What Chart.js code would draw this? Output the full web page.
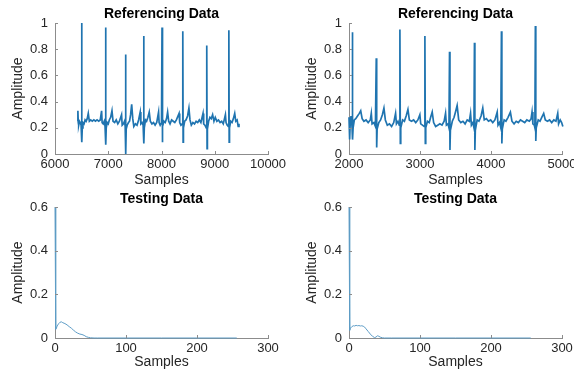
<!DOCTYPE html>
<html>
<head>
<meta charset="utf-8">
<script src="https://cdn.jsdelivr.net/npm/chart.js@4.4.1/dist/chart.umd.min.js"></script>
<style>
  html, body { margin: 0; padding: 0; background: #fff; overflow: hidden; }
  body { width: 574px; height: 369px; position: relative; }
  .panel { position: absolute; }
</style>
</head>
<body>
<div class="panel" style="left:0;top:0;width:287px;height:190px"><canvas id="refLeft"></canvas></div>
<div class="panel" style="left:294px;top:0;width:280px;height:190px"><canvas id="refRight"></canvas></div>
<div class="panel" style="left:0;top:186px;width:287px;height:185px"><canvas id="testLeft"></canvas></div>
<div class="panel" style="left:294px;top:186px;width:280px;height:185px"><canvas id="testRight"></canvas></div>
<script>
// Referencing data, left panel (ECG segment)
const refLeftSamples = [6425, 6430, 6437, 6445, 6460, 6475, 6490, 6500, 6506, 6512, 6525, 6545, 6565, 6585, 6605, 6625, 6645, 6670, 6700, 6730, 6760, 6790, 6820, 6850, 6875, 6885, 6905, 6925, 6940, 6950, 6956, 6962, 6980, 7000, 7020, 7045, 7070, 7090, 7120, 7150, 7180, 7210, 7250, 7262, 7285, 7305, 7318, 7325, 7331, 7337, 7355, 7380, 7400, 7420, 7440, 7460, 7480, 7510, 7540, 7570, 7600, 7612, 7635, 7655, 7665, 7671, 7677, 7700, 7720, 7745, 7770, 7790, 7820, 7850, 7880, 7910, 7945, 7955, 7975, 8000, 8010, 8016, 8022, 8045, 8070, 8095, 8115, 8135, 8160, 8190, 8220, 8250, 8280, 8330, 8342, 8365, 8390, 8400, 8406, 8412, 8435, 8460, 8490, 8515, 8535, 8560, 8590, 8620, 8650, 8680, 8710, 8740, 8780, 8792, 8815, 8840, 8850, 8856, 8862, 8885, 8910, 8935, 8960, 8985, 9010, 9040, 9070, 9100, 9130, 9160, 9200, 9212, 9235, 9255, 9265, 9271, 9277, 9300, 9325, 9350, 9375, 9395, 9420, 9440, 9455];
const refLeftAmp = [0.25, 0.33, 0.24, 0.22, 0.25, 0.24, 0.22, 1.00, 0.09, 0.20, 0.24, 0.23, 0.26, 0.25, 0.27, 0.31, 0.25, 0.26, 0.25, 0.26, 0.25, 0.26, 0.25, 0.26, 0.33, 0.24, 0.23, 0.25, 0.21, 0.965, 0.07, 0.20, 0.24, 0.23, 0.26, 0.28, 0.33, 0.25, 0.24, 0.26, 0.23, 0.25, 0.30, 0.22, 0.23, 0.25, 0.21, 0.76, 0.00, 0.19, 0.22, 0.24, 0.25, 0.30, 0.38, 0.27, 0.21, 0.23, 0.22, 0.26, 0.32, 0.23, 0.24, 0.22, 0.90, 0.08, 0.20, 0.26, 0.25, 0.28, 0.32, 0.25, 0.23, 0.24, 0.22, 0.24, 0.32, 0.24, 0.22, 0.24, 0.965, 0.09, 0.21, 0.25, 0.24, 0.27, 0.32, 0.25, 0.23, 0.26, 0.25, 0.24, 0.26, 0.31, 0.24, 0.22, 0.23, 0.937, 0.09, 0.20, 0.25, 0.26, 0.29, 0.35, 0.26, 0.22, 0.24, 0.23, 0.25, 0.24, 0.26, 0.24, 0.31, 0.23, 0.22, 0.20, 0.828, 0.04, 0.19, 0.25, 0.28, 0.27, 0.30, 0.25, 0.28, 0.25, 0.26, 0.24, 0.25, 0.23, 0.30, 0.24, 0.22, 0.21, 0.944, 0.09, 0.20, 0.25, 0.24, 0.27, 0.31, 0.25, 0.26, 0.21, 0.23];

// Referencing data, right panel
const refRightSamples = [2000, 2006, 2012, 2018, 2028, 2038, 2043, 2047, 2052, 2058, 2075, 2095, 2120, 2145, 2165, 2185, 2210, 2240, 2270, 2300, 2314, 2325, 2350, 2372, 2384, 2390, 2396, 2420, 2445, 2470, 2492, 2512, 2540, 2570, 2600, 2630, 2656, 2668, 2690, 2708, 2717, 2723, 2729, 2755, 2780, 2805, 2830, 2850, 2880, 2910, 2940, 2970, 2998, 3010, 3035, 3058, 3069, 3075, 3081, 3105, 3130, 3150, 3172, 3192, 3220, 3250, 3280, 3310, 3340, 3360, 3372, 3395, 3408, 3416, 3422, 3428, 3455, 3480, 3500, 3523, 3545, 3575, 3605, 3635, 3665, 3695, 3712, 3724, 3745, 3760, 3767, 3773, 3779, 3805, 3830, 3860, 3884, 3905, 3935, 3965, 3995, 4025, 4055, 4087, 4099, 4120, 4138, 4147, 4153, 4159, 4185, 4210, 4240, 4273, 4295, 4325, 4355, 4385, 4415, 4445, 4475, 4505, 4540, 4565, 4578, 4590, 4610, 4618, 4625, 4631, 4637, 4665, 4690, 4715, 4742, 4765, 4795, 4825, 4855, 4885, 4915, 4940, 4952, 4975, 4995, 5012];
const refRightAmp = [0.28, 0.24, 0.11, 0.25, 0.29, 0.24, 0.20, 0.93, 0.11, 0.20, 0.26, 0.27, 0.29, 0.31, 0.33, 0.27, 0.25, 0.26, 0.24, 0.26, 0.31, 0.23, 0.24, 0.21, 0.73, 0.05, 0.19, 0.24, 0.26, 0.30, 0.35, 0.26, 0.22, 0.23, 0.21, 0.24, 0.31, 0.23, 0.25, 0.22, 0.95, 0.08, 0.20, 0.26, 0.25, 0.29, 0.34, 0.26, 0.25, 0.26, 0.24, 0.26, 0.30, 0.23, 0.22, 0.21, 0.90, 0.08, 0.20, 0.25, 0.24, 0.28, 0.32, 0.24, 0.21, 0.22, 0.23, 0.22, 0.25, 0.31, 0.22, 0.23, 0.20, 0.78, 0.03, 0.18, 0.25, 0.28, 0.32, 0.37, 0.26, 0.24, 0.25, 0.23, 0.26, 0.25, 0.31, 0.22, 0.24, 0.20, 0.85, 0.03, 0.18, 0.26, 0.25, 0.29, 0.35, 0.26, 0.27, 0.25, 0.26, 0.24, 0.26, 0.32, 0.22, 0.24, 0.20, 0.937, 0.08, 0.19, 0.26, 0.25, 0.28, 0.32, 0.25, 0.23, 0.25, 0.24, 0.26, 0.25, 0.24, 0.26, 0.25, 0.27, 0.32, 0.23, 0.22, 0.20, 0.977, 0.10, 0.20, 0.26, 0.25, 0.28, 0.31, 0.26, 0.25, 0.26, 0.24, 0.26, 0.25, 0.31, 0.23, 0.26, 0.24, 0.21];

// Testing data
const testLeftSamples = [0, 1, 2, 3, 5, 7, 9, 11, 14, 17, 20, 23, 26, 29, 32, 35, 38, 41, 44, 47, 50, 55, 60, 100, 150, 200, 256];
const testLeftAmp = [0.6, 0.04, 0.045, 0.055, 0.065, 0.072, 0.074, 0.07, 0.066, 0.06, 0.052, 0.045, 0.036, 0.028, 0.022, 0.018, 0.016, 0.012, 0.006, 0.003, 0.001, 0, 0, 0, 0, 0, 0];
const testRightSamples = [0, 1, 2, 4, 6, 8, 10, 12, 14, 16, 18, 20, 22, 24, 27, 30, 33, 36, 38, 40, 42, 44, 47, 50, 60, 100, 150, 200, 256];
const testRightAmp = [0.6, 0.035, 0.045, 0.052, 0.056, 0.055, 0.058, 0.056, 0.057, 0.055, 0.056, 0.054, 0.05, 0.042, 0.03, 0.018, 0.008, 0.002, 0.004, 0.01, 0.008, 0.004, 0.001, 0, 0, 0, 0, 0, 0];

// Tick values
const refLeftXTicks = [6000, 7000, 8000, 9000, 10000];
const refRightXTicks = [2000, 3000, 4000, 5000];
const testXTicks = [0, 100, 200, 300];
const refYTicks = [0, 0.2, 0.4, 0.6, 0.8, 1];
const testYTicks = [0, 0.2, 0.4, 0.6];

const FONT = '"Liberation Sans", Arial, sans-serif';
const AXIS_COLOR = '#8c8c8c';

// small inward ticks + title centred over the plot area, like matlab
const matlabAxes = {
    id: 'matlabAxes',
    afterDraw(chart, args, opts) {
        const {ctx, chartArea: a} = chart;
        const xs = chart.scales.x, ys = chart.scales.y;
        ctx.save();
        ctx.strokeStyle = AXIS_COLOR;
        ctx.lineWidth = 1;
        ctx.beginPath();
        xs.ticks.forEach(t => {
            const px = Math.round(xs.getPixelForValue(t.value)) + 0.5;
            ctx.moveTo(px, a.bottom);
            ctx.lineTo(px, a.bottom - 3);
        });
        ys.ticks.forEach(t => {
            const py = Math.round(ys.getPixelForValue(t.value)) + 0.5;
            ctx.moveTo(a.left, py);
            ctx.lineTo(a.left + 3, py);
        });
        ctx.stroke();
        ctx.font = 'bold 14px ' + FONT;
        ctx.fillStyle = '#000';
        ctx.textAlign = 'center';
        ctx.textBaseline = 'middle';
        ctx.fillText(opts.text, (a.left + a.right) / 2, opts.y);
        ctx.restore();
    }
};

function makePanel(id, p) {
    const points = p.xs.map((x, i) => ({x: x, y: p.ys[i]}));
    return new Chart(document.getElementById(id), {
        type: 'line',
        data: {
            datasets: [{
                data: points,
                borderColor: p.color,
                borderWidth: p.lineWidth,
                pointRadius: 0,
                tension: 0,
                clip: 3
            }]
        },
        plugins: [matlabAxes],
        options: {
            responsive: true,
            maintainAspectRatio: false,
            animation: false,
            layout: {padding: {left: 10, right: p.padRight, top: p.padTop, bottom: 0}},
            plugins: {
                legend: {display: false},
                tooltip: {enabled: false},
                matlabAxes: {text: p.title, y: p.titleY}
            },
            scales: {
                x: {
                    type: 'linear',
                    min: p.xMin,
                    max: p.xMax,
                    afterBuildTicks: (s) => { s.ticks = p.xTicks.map(v => ({value: v})); },
                    afterFit: (s) => { s.height = p.xHeight; s.paddingLeft = 0; s.paddingRight = 0; },
                    grid: {drawOnChartArea: false, drawTicks: false},
                    border: {color: AXIS_COLOR},
                    ticks: {padding: 3, color: '#262626', font: {family: FONT, size: 13}, maxRotation: 0, autoSkip: false,
                        callback: (v) => String(v)},
                    title: {display: true, text: 'Samples', color: '#262626', font: {family: FONT, size: 14}, padding: {top: 0, bottom: p.xTitlePad}}
                },
                y: {
                    min: 0,
                    max: p.yMax,
                    afterBuildTicks: (s) => { s.ticks = p.yTicks.map(v => ({value: v})); },
                    afterFit: (s) => { s.width = 45; s.paddingTop = 0; s.paddingBottom = 0; },
                    grid: {drawOnChartArea: false, drawTicks: false},
                    border: {color: AXIS_COLOR},
                    ticks: {padding: 7, color: '#262626', font: {family: FONT, size: 13},
                        callback: (v) => String(v)},
                    title: {display: true, text: 'Amplitude', color: '#262626', font: {family: FONT, size: 14}, padding: {top: 0, bottom: 0}}
                }
            }
        }
    });
}

makePanel('refLeft', {
    title: 'Referencing Data', titleY: 14.5, xs: refLeftSamples, ys: refLeftAmp,
    xMin: 6000, xMax: 10000, xTicks: refLeftXTicks, yMax: 1, yTicks: refYTicks,
    color: '#1f74b0', lineWidth: 1.7, padRight: 19, padTop: 23, xHeight: 36, xTitlePad: 1.6
});
makePanel('refRight', {
    title: 'Referencing Data', titleY: 14.5, xs: refRightSamples, ys: refRightAmp,
    xMin: 2000, xMax: 5000, xTicks: refRightXTicks, yMax: 1, yTicks: refYTicks,
    color: '#1f74b0', lineWidth: 1.7, padRight: 12, padTop: 23, xHeight: 36, xTitlePad: 1.6
});
makePanel('testLeft', {
    title: 'Testing Data', titleY: 13, xs: testLeftSamples, ys: testLeftAmp,
    xMin: 0, xMax: 300, xTicks: testXTicks, yMax: 0.6, yTicks: testYTicks,
    color: '#5d9cc6', lineWidth: 1, padRight: 19, padTop: 21, xHeight: 33, xTitlePad: 0.6
});
makePanel('testRight', {
    title: 'Testing Data', titleY: 13, xs: testRightSamples, ys: testRightAmp,
    xMin: 0, xMax: 300, xTicks: testXTicks, yMax: 0.6, yTicks: testYTicks,
    color: '#5d9cc6', lineWidth: 1, padRight: 12, padTop: 21, xHeight: 33, xTitlePad: 0.6
});
</script>
</body>
</html>
